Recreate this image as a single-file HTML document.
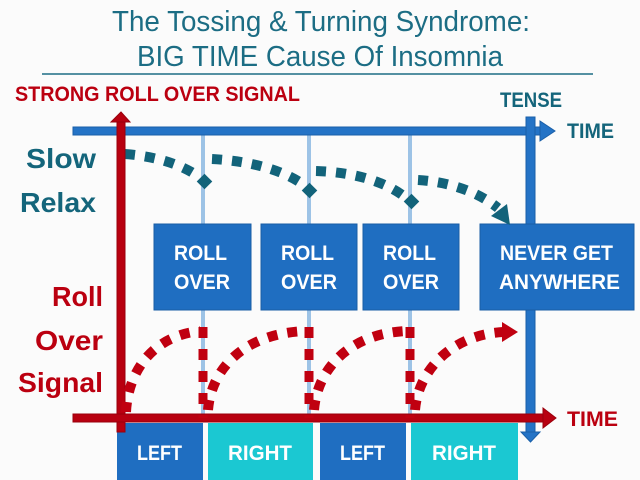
<!DOCTYPE html>
<html><head><meta charset="utf-8"><style>
html,body{margin:0;padding:0;background:#fbfbfb;}
svg{display:block;}
text{font-family:"Liberation Sans",sans-serif;}
</style></head><body>
<svg width="640" height="480" viewBox="0 0 640 480" xmlns="http://www.w3.org/2000/svg">
<rect x="0" y="0" width="640" height="480" fill="#fbfbfb"/>
<!-- Title -->
<text x="112" y="31" font-size="29" fill="#1c6d84" textLength="418" lengthAdjust="spacingAndGlyphs">The Tossing &amp; Turning Syndrome:</text>
<text x="137" y="66" font-size="29" fill="#1c6d84" textLength="366" lengthAdjust="spacingAndGlyphs">BIG TIME Cause Of Insomnia</text>
<line x1="42" y1="74" x2="593" y2="74" stroke="#1c6d84" stroke-width="1.5"/>

<text x="15" y="101" font-size="21" font-weight="bold" fill="#bb0010" textLength="285" lengthAdjust="spacingAndGlyphs">STRONG ROLL OVER SIGNAL</text>
<text x="500" y="107" font-size="21" font-weight="bold" fill="#14657b" textLength="62" lengthAdjust="spacingAndGlyphs">TENSE</text>
<text x="567" y="138" font-size="21" font-weight="bold" fill="#14657b" textLength="47" lengthAdjust="spacingAndGlyphs">TIME</text>
<text x="567" y="426" font-size="21" font-weight="bold" fill="#bb0010" textLength="51" lengthAdjust="spacingAndGlyphs">TIME</text>

<!-- left labels -->
<text x="26" y="168" font-size="28" font-weight="bold" fill="#14657b" textLength="70" lengthAdjust="spacingAndGlyphs">Slow</text>
<text x="20" y="212" font-size="28" font-weight="bold" fill="#14657b" textLength="76" lengthAdjust="spacingAndGlyphs">Relax</text>
<text x="52" y="306" font-size="28" font-weight="bold" fill="#bb0010" textLength="51" lengthAdjust="spacingAndGlyphs">Roll</text>
<text x="35" y="350" font-size="28" font-weight="bold" fill="#bb0010" textLength="68" lengthAdjust="spacingAndGlyphs">Over</text>
<text x="18" y="392" font-size="28" font-weight="bold" fill="#bb0010" textLength="85" lengthAdjust="spacingAndGlyphs">Signal</text>

<!-- light blue verticals -->
<rect x="201" y="135" width="4" height="280" fill="#9dc3e6"/>
<rect x="307" y="135" width="4" height="280" fill="#9dc3e6"/>
<rect x="408" y="135" width="4" height="280" fill="#9dc3e6"/>

<!-- top blue axis -->
<rect x="73" y="127" width="469" height="8" fill="#2473c6" stroke="#1a5fa8" stroke-width="1"/>
<polygon points="540,121 555,131 540,141" fill="#2473c6" stroke="#1a5fa8" stroke-width="1"/>
<!-- vertical blue down arrow -->
<rect x="526" y="117" width="9" height="316" fill="#2473c6" stroke="#1a5fa8" stroke-width="1"/>
<polygon points="521,432 540,432 530.5,442" fill="#2473c6" stroke="#1a5fa8" stroke-width="1"/>

<!-- boxes -->
<g fill="#1f6ec1" stroke="#1a5da5" stroke-width="1">
<rect x="154" y="224" width="97" height="86"/>
<rect x="261" y="224" width="96" height="86"/>
<rect x="363" y="224" width="96" height="86"/>
<rect x="480" y="224" width="154" height="86"/>
</g>
<g font-size="21" font-weight="bold" fill="#ffffff">
<text x="174" y="260" textLength="53" lengthAdjust="spacingAndGlyphs">ROLL</text>
<text x="174" y="289" textLength="56" lengthAdjust="spacingAndGlyphs">OVER</text>
<text x="281" y="260" textLength="53" lengthAdjust="spacingAndGlyphs">ROLL</text>
<text x="281" y="289" textLength="56" lengthAdjust="spacingAndGlyphs">OVER</text>
<text x="383" y="260" textLength="53" lengthAdjust="spacingAndGlyphs">ROLL</text>
<text x="383" y="289" textLength="56" lengthAdjust="spacingAndGlyphs">OVER</text>
<text x="500" y="260" textLength="113" lengthAdjust="spacingAndGlyphs">NEVER GET</text>
<text x="499" y="289" textLength="121" lengthAdjust="spacingAndGlyphs">ANYWHERE</text>
</g>

<!-- bottom boxes -->
<rect x="117" y="423" width="86" height="57" fill="#1f6ec1"/>
<rect x="208" y="423" width="105" height="57" fill="#1bc8d2"/>
<rect x="320" y="423" width="86" height="57" fill="#1f6ec1"/>
<rect x="411" y="423" width="107" height="57" fill="#1bc8d2"/>
<g font-size="21" font-weight="bold" fill="#ffffff">
<text x="137" y="460" textLength="45" lengthAdjust="spacingAndGlyphs">LEFT</text>
<text x="228" y="460" textLength="64" lengthAdjust="spacingAndGlyphs">RIGHT</text>
<text x="340" y="460" textLength="45" lengthAdjust="spacingAndGlyphs">LEFT</text>
<text x="432" y="460" textLength="64" lengthAdjust="spacingAndGlyphs">RIGHT</text>
</g>

<!-- teal dotted curves -->
<g fill="none" stroke="#12637a" stroke-width="10" stroke-dasharray="10 10">
<path d="M125,154 C152,156 180,163 199,177"/>
<path d="M212,159 C250,161 283,170 304,185"/>
<path d="M316,171 C350,172 383,180 405,197"/>
<path d="M418,180 C450,182 478,192 498,208"/>
</g>
<g fill="#12637a">
<rect x="199" y="176" width="11" height="11" transform="rotate(45 204.5 181.5)"/>
<rect x="304" y="185" width="11" height="11" transform="rotate(45 309.5 190.5)"/>
<rect x="406" y="196" width="11" height="11" transform="rotate(45 411.5 201.5)"/>
<polygon points="507,204 491,216 510,225"/>
</g>

<!-- red vertical axis -->
<rect x="117" y="122" width="8" height="310" fill="#b80010" stroke="#9a000c" stroke-width="1"/>
<polygon points="111,122 130,122 121,112" fill="#b80010" stroke="#9a000c" stroke-width="1"/>
<!-- red horizontal axis -->
<rect x="73" y="414" width="471" height="8" fill="#b80010" stroke="#9a000c" stroke-width="1"/>
<polygon points="543,408 543,428 556,418" fill="#b80010" stroke="#9a000c" stroke-width="1"/>

<!-- red dotted curves -->
<g fill="none" stroke="#c00010" stroke-width="10" stroke-dasharray="10 10">
<path d="M126,412 C128,372 152,336 200,331"/>
<path d="M208,410 C211,372 240,334 305,331"/>
<path d="M314,410 C317,372 346,334 406,331"/>
<path d="M415,410 C418,372 450,335 503,332"/>
</g>
<g fill="none" stroke="#c00010" stroke-width="9" stroke-dasharray="11 11">
<path d="M203,327 L203,418"/>
<path d="M309,327 L309,418"/>
<path d="M410,327 L410,418"/>
</g>
<polygon points="502,322 502,342 518,332" fill="#c00010"/>
</svg>
</body></html>
